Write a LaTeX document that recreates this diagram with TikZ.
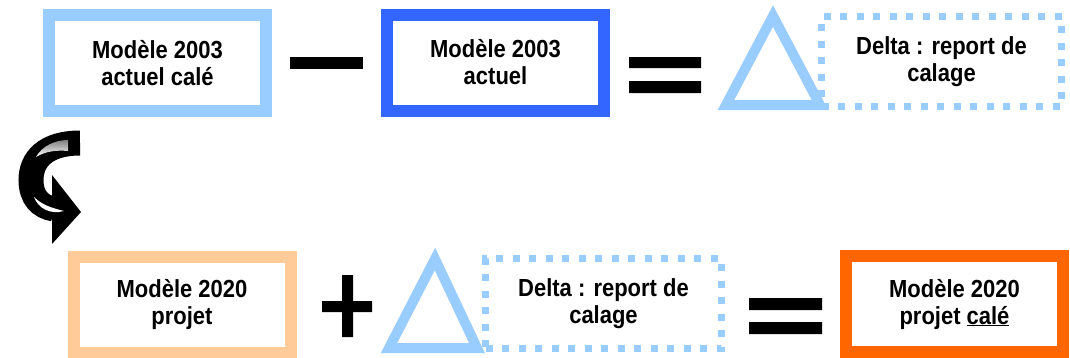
\documentclass[tikz,border=0pt]{standalone}
\usepackage{fontspec}
\setmainfont{Liberation Sans}[FakeStretch=0.89]
\usetikzlibrary{positioning}
\definecolor{paleblue}{HTML}{99CCFF}
\definecolor{royalblue}{HTML}{3366FF}
\definecolor{peach}{HTML}{FFCC99}
\definecolor{deeporange}{HTML}{FF6600}
\definecolor{shade}{HTML}{C0C0C0}

\begin{document}
\begin{tikzpicture}[x=1pt,y=-1pt,
                    model/.style={draw,line width=12pt,inner sep=0pt,minimum width=217pt,
                                  minimum height=96pt,align=center,
                                  font=\fontsize{24.7}{27}\selectfont\bfseries},
                    delta/.style={model,draw=paleblue,line width=6.5pt,
                                  dash pattern=on 7pt off 9.5pt,minimum height=90pt},
                    tri/.style={draw=paleblue,line width=10pt,line join=miter}]
  \useasboundingbox (0,0) rectangle (1070,357);

  \node[model,draw=paleblue]   (m03c) at (157.5,63)   {Modèle 2003\\actuel calé};
  \node[model,draw=royalblue]  (m03)  at (495.5,62.5) {Modèle 2003\\actuel};
  \node[delta,minimum width=240pt] (d1) at (941.5,61.5) {Delta : report de\\calage};
  \node[model,draw=peach]      (m20)  at (182,304.5)  {Modèle 2020\\projet};
  \node[delta,minimum width=236pt] (d2) at (603.5,303.5) {Delta : report de\\calage};
  \node[model,draw=deeporange] (m20c) at (954.5,304)  {Modèle 2020\\projet \underline{calé}};

  \draw[tri] (726,105) -- (773,16) -- (820,105) -- cycle;
  \draw[tri] (389,348) -- (435,259) -- (477,348) -- cycle;

  \fill (290,57) rectangle (363,69);
  \fill (629,57) rectangle (701,68) (629,81) rectangle (701,93);
  \fill (322,301) rectangle (372,312) (342,275) rectangle (353,337);
  \fill (749,298) rectangle (822,310) (749,322) rectangle (822,334);

  \draw[line width=25pt] (80,143) .. controls (45,143) and (31,160) .. (31,180)
                                  .. controls (31,197) and (40,207) .. (54,209);
  \fill (52,175) -- (81,212) -- (52,244) -- cycle;
  \fill[shade] (68,140) .. controls (55,140) and (42,146) .. (36,157)
               .. controls (46,151) and (57,150) .. (68,151) -- cycle;
  \fill[white] (34,197) .. controls (42,205) and (52,208) .. (64,211)
               .. controls (50,215) and (38,208) .. (34,197) -- cycle;
\end{tikzpicture}
\end{document}
